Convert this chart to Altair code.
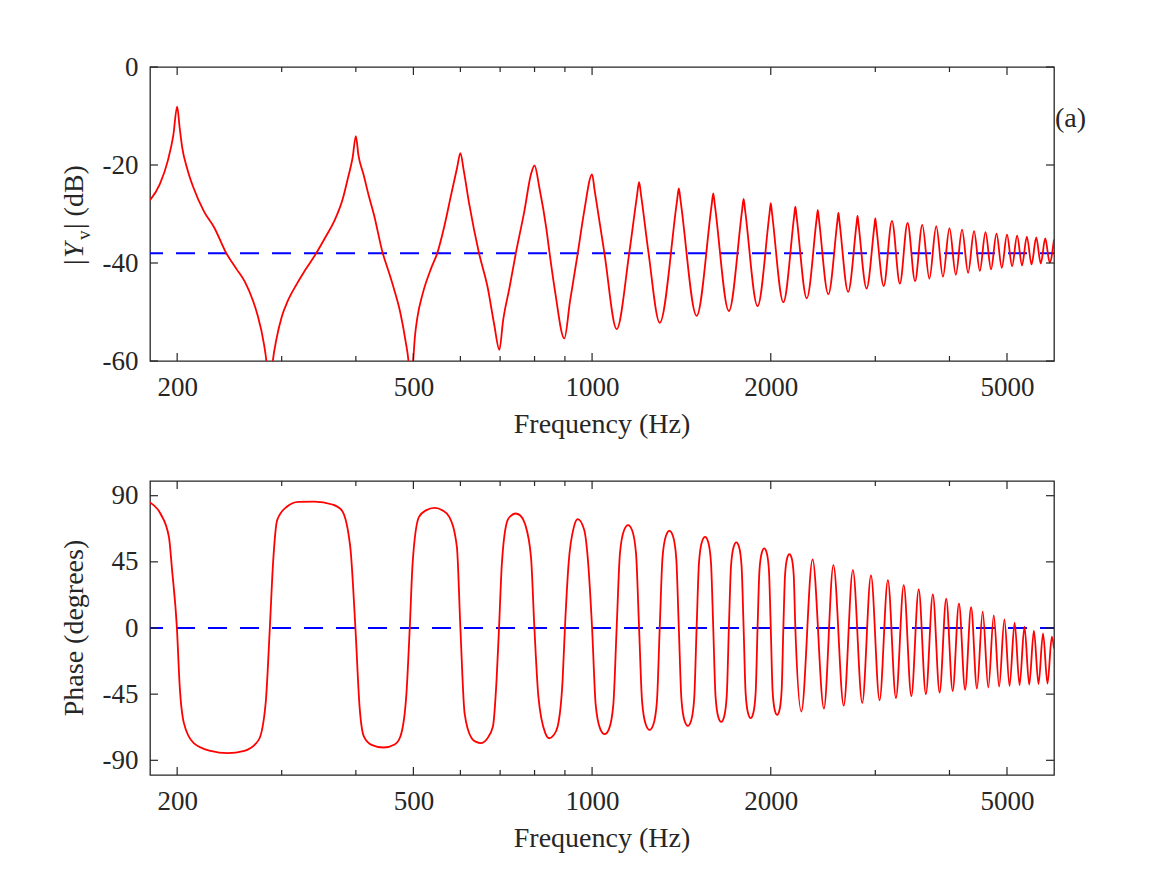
import altair as alt
import pandas as pd

# ---------------- data ----------------
# magnitude |Y_v| (dB) vs frequency (Hz)
mag_freq = [180, 187, 193, 197, 200, 202, 204, 208, 213, 222, 231, 242, 252, 260, 268, 273, 280, 283, 286,
            289.5, 294, 300, 307, 318, 328, 343, 356, 368, 380, 388, 395, 400, 404, 412, 420, 429, 444,
            455, 463, 475, 485, 491, 495, 499, 503, 508, 518, 536, 548.5, 563, 579, 592.5, 600, 608, 621, 645,
            667, 684, 698, 708, 726, 744, 769, 789, 800, 815, 837, 848, 866, 898, 918, 946, 970, 1000, 1010,
            1049, 1100, 1155, 1190, 1200, 1210, 1245, 1300, 1390, 1400, 1410, 1500, 1590, 1600, 1610, 1700,
            1790, 1800, 1810, 1900, 1990, 2000, 2010, 2100, 2190, 2200, 2210, 2300, 2390, 2400, 2410, 2500,
            2590, 2600, 2610, 2700, 2790, 2800, 2810, 2900, 2990, 3000, 3010, 3100, 3200, 3300, 3400, 3500,
            3600, 3700, 3800, 3900, 4000, 4100, 4200, 4300, 4400, 4500, 4600, 4700, 4800, 4900, 5000, 5100,
            5200, 5300, 5400, 5500, 5600, 5700, 5800, 5900, 6000]
mag_db = [-27.2, -23.9, -19.0, -14.0, -8.1, -12.5, -16.5, -20.8, -24.6, -29.5, -32.8, -38.0, -41.3, -43.8,
          -47.5, -50.5, -56.5, -60.5, -68, -60.5, -55.5, -51.0, -47.8, -44.3, -41.6, -38.0, -34.6, -31.4,
          -27.0, -22.6, -18.5, -14.1, -18.0, -21.9, -26.0, -30.1, -38.0, -42.0, -45.0, -50.0, -55.9, -60.5,
          -67, -61, -55.0, -51.0, -46.4, -41.0, -38.0, -32.8, -26.0, -20.5, -17.6, -21.2, -28.0, -38.0, -45.0,
          -52.5, -57.7, -51.8, -45.0, -38.0, -29.4, -21.9, -20.1, -24.6, -32.8, -38.0, -45.7, -55.4, -47.8,
          -38.0, -29.4, -21.9, -25.2,
          -38.0, -53.5, -38.0, -26.4, -23.5, -26.4, -38.0, -52.2, -27.4, -24.8, -27.4, -50.8, -28.2, -25.8,
          -28.2, -49.8, -29.1, -26.9, -29.1, -48.8, -29.9, -27.8, -29.9, -48.0, -30.4, -28.5, -30.4, -47.2,
          -30.9, -29.2, -30.9, -46.4, -31.4, -29.8, -31.4, -45.9, -31.9, -30.4, -31.9, -45.2, -32.3, -30.9,
          -32.3, -44.7, -31.4, -44.2, -31.8, -43.7, -32.2, -43.2, -32.5, -42.8, -32.9, -42.4, -33.2, -42.0,
          -33.5, -41.6, -33.7, -41.3, -34.0, -41.0, -34.2, -40.7, -34.4, -40.5, -34.6, -40.3, -34.8, -40.1,
          -35.0, -39.9, -35.2]

# phase (degrees) vs frequency (Hz)
phase_freq = [180, 187.4, 193.7, 196.1, 199.8, 202, 205.3, 213.3, 227.8, 243.1, 259.5, 274.4, 281.9,
              286.5, 290.1, 294.8, 306, 320, 340.6, 365, 378.5, 391.4, 399.3, 405.8, 412.6, 425, 445.2, 465,
              475.4, 486.3, 493, 498.5, 511, 525, 543, 560, 574.7, 591.9, 600, 609.9, 626.8, 638, 649.6, 665,
              680.7, 690.4, 697, 704.8, 720.6, 731, 743, 757, 770.5, 789, 799.5, 812, 834, 847, 861, 875, 892,
              900, 913, 932, 946, 970, 985, 1000,
              1014, 1032, 1050, 1068, 1086, 1100, 1114, 1132, 1150, 1168, 1186, 1200,
              1214, 1232, 1250, 1268, 1286, 1300, 1314, 1332, 1350, 1368, 1386, 1400,
              1414, 1432, 1450, 1468, 1486, 1500, 1514, 1532, 1550, 1568, 1586, 1600,
              1614, 1632, 1650, 1668, 1686, 1700, 1714, 1732, 1750, 1768, 1786, 1800,
              1814, 1832, 1850, 1868, 1886, 1900, 1914, 1932, 1950, 1968, 1986, 2000,
              2014, 2032, 2050, 2068, 2086, 2100, 2114, 2132, 2150, 2168, 2186, 2200,
              2252, 2352, 2458, 2550, 2654, 2750, 2852, 2950, 3050, 3150, 3250, 3350, 3450, 3550, 3650,
              3750, 3850, 3950, 4050, 4150, 4250, 4350, 4450, 4550, 4650, 4750, 4850, 4950, 5050, 5150,
              5250, 5350, 5450, 5550, 5650, 5750, 5850, 5950, 6000]
phase_deg = [85.4, 77.9, 62, 39.4, 0, -39.9, -64.7, -78.3, -83.6, -85.1, -83.6, -76.1, -51.2,
             0, 44, 73.4, 82.5, 85.8, 86.0, 84.0, 80.2, 55.2, 0, -53.5, -73.8, -79.5, -81.3, -79.2,
             -73.8, -46.7, 0, 44, 75.6, 80.0, 81.7, 80.0, 75.6, 55.2, 0, -58, -75, -77.5, -78.3, -75.5,
             -67, -35.3, 0, 44, 73.4, 76.5, 77.9, 76.5, 71.1, 48.4, 0, -46.7, -71.5, -75, -73, -67, -35.3,
             0, 44, 68.8, 74, 66.6, 44, 0,
             -52.0, -68.6, -72.2, -68.6, -52.0, 0, 50.4, 66.5, 70.0, 66.5, 50.4, 0,
             -49.9, -65.8, -69.3, -65.8, -49.9, 0, 47.6, 62.8, 66.1, 62.8, 47.6, 0,
             -48.0, -63.3, -66.6, -63.3, -48.0, 0, 44.6, 58.9, 62.0, 58.9, 44.6, 0,
             -46.0, -60.7, -63.9, -60.7, -46.0, 0, 41.9, 55.3, 58.2, 55.3, 41.9, 0,
             -44.1, -58.2, -61.3, -58.2, -44.1, 0, 39.0, 51.4, 54.1, 51.4, 39.0, 0,
             -42.6, -56.1, -59.1, -56.1, -42.6, 0, 36.2, 47.8, 50.3, 47.8, 36.2, 0,
             -56.8, 46.7, -54.8, 42.8, -52.8, 39.4, -50.9, 35.8, -49.2, 32.6, -47.7, 29.2, -46.3, 26.3, -45.0,
             22.9, -43.9, 19.9, -42.9, 16.8, -42.0, 14.1, -41.2, 11.1, -40.5, 8.6, -39.9, 5.9, -39.4, 3.6,
             -38.9, 0.9, -38.5, -1.8, -38.1, -3.6, -37.8, -5.9, -14]

ref_db = [-38]
ref_phase = [0]

x_domain = [180, 6000]
x_major = [200, 500, 1000, 2000, 5000]
x_minor = [300, 400, 600, 700, 800, 900, 3000, 4000]
mag_domain = [-60, 0]
mag_ticks = [-60, -40, -20, 0]
phase_domain = [-100, 100]
phase_ticks = [-90, -45, 0, 45, 90]

# ---------------- styling ----------------
W, H = 904, 294
FONT = "Liberation Serif"
AX = "#262626"
RED = "#FF0000"
BLUE = "#0000FF"
LBL = 27
TTL = 28

xscale = alt.Scale(type="log", domain=x_domain, nice=False)
xaxis = alt.Axis(values=x_major, labelExpr="'' + datum.value", title=None, ticks=False, tickSize=0,
                 domain=False, grid=False, labelFont=FONT, labelFontSize=LBL, labelColor=AX,
                 labelPadding=13, labelFlush=False, labelOverlap=False)


def panel(xs, ys, ydomain, yticks, ref):
    yscale = alt.Scale(domain=ydomain, nice=False, zero=False)
    yaxis = alt.Axis(values=yticks, labelExpr="'' + datum.value", title=None, ticks=False, tickSize=0,
                     domain=False, grid=False, labelFont=FONT, labelFontSize=LBL, labelColor=AX,
                     labelPadding=12, labelFlush=False, labelOverlap=False)
    refl = alt.Chart(pd.DataFrame({"v": ref})).mark_rule(
        color=BLUE, strokeWidth=2, strokeDash=[19, 13], strokeDashOffset=5
    ).encode(y=alt.Y("v:Q", scale=yscale, axis=yaxis))
    df = pd.DataFrame({"f": xs, "v": ys})
    line = alt.Chart(df).mark_line(color=RED, strokeWidth=1.8, clip=True, interpolate="monotone").encode(
        x=alt.X("f:Q", scale=xscale, axis=xaxis),
        y=alt.Y("v:Q", scale=yscale, axis=yaxis),
    )
    layers = [refl, line]

    xmaj = pd.DataFrame({"f": x_major})
    xmin = pd.DataFrame({"f": x_minor})
    ytk = pd.DataFrame({"v": yticks})
    tick = dict(color=AX, strokeWidth=1.2)
    for d, ln in ((xmaj, 8), (xmin, 5)):
        layers.append(alt.Chart(d).mark_rule(**tick).encode(
            x=alt.X("f:Q", scale=xscale, axis=xaxis), y=alt.value(H), y2=alt.value(H - ln)))
        layers.append(alt.Chart(d).mark_rule(**tick).encode(
            x=alt.X("f:Q", scale=xscale, axis=xaxis), y=alt.value(0), y2=alt.value(ln)))
    layers.append(alt.Chart(ytk).mark_rule(**tick).encode(
        y=alt.Y("v:Q", scale=yscale, axis=yaxis), x=alt.value(0), x2=alt.value(8)))
    layers.append(alt.Chart(ytk).mark_rule(**tick).encode(
        y=alt.Y("v:Q", scale=yscale, axis=yaxis), x=alt.value(W - 8), x2=alt.value(W)))
    # x-axis title
    layers.append(alt.Chart(pd.DataFrame({"t": ["Frequency (Hz)"]})).mark_text(
        font=FONT, fontSize=TTL, color=AX, align="center", baseline="alphabetic"
    ).encode(text="t:N", x=alt.value(W / 2), y=alt.value(H + 72)))
    return layers


def txt(s, x, y, size=TTL, style="normal", align="left", angle=270):
    return alt.Chart(pd.DataFrame({"t": [s]})).mark_text(
        font=FONT, fontSize=size, fontStyle=style, color=AX, align=align, baseline="alphabetic", angle=angle
    ).encode(text="t:N", x=alt.value(x), y=alt.value(y))


BX = -67
top_layers = panel(mag_freq, mag_db, mag_domain, mag_ticks, ref_db)
top_layers += [
    txt("|", BX, 198),
    txt("Y", BX, 191, style="italic"),
    txt("v", BX + 7, 173, size=19),
    txt("| (dB)", BX, 162),
    txt("(a)", 905, 60, angle=0),
]
top = alt.layer(*top_layers).properties(width=W, height=H)

bot_layers = panel(phase_freq, phase_deg, phase_domain, phase_ticks, ref_phase)
bot_layers += [txt("Phase (degrees)", -67, 147, align="center")]
bottom = alt.layer(*bot_layers).properties(width=W, height=H)

chart = alt.vconcat(top, bottom, spacing=39).properties(
    padding={"left": 52, "top": 44, "right": 10, "bottom": 10},
    background="white",
).configure_view(stroke=AX, strokeWidth=1.3)

chart.save("out.html", embed_options={"renderer": "svg", "actions": False})
